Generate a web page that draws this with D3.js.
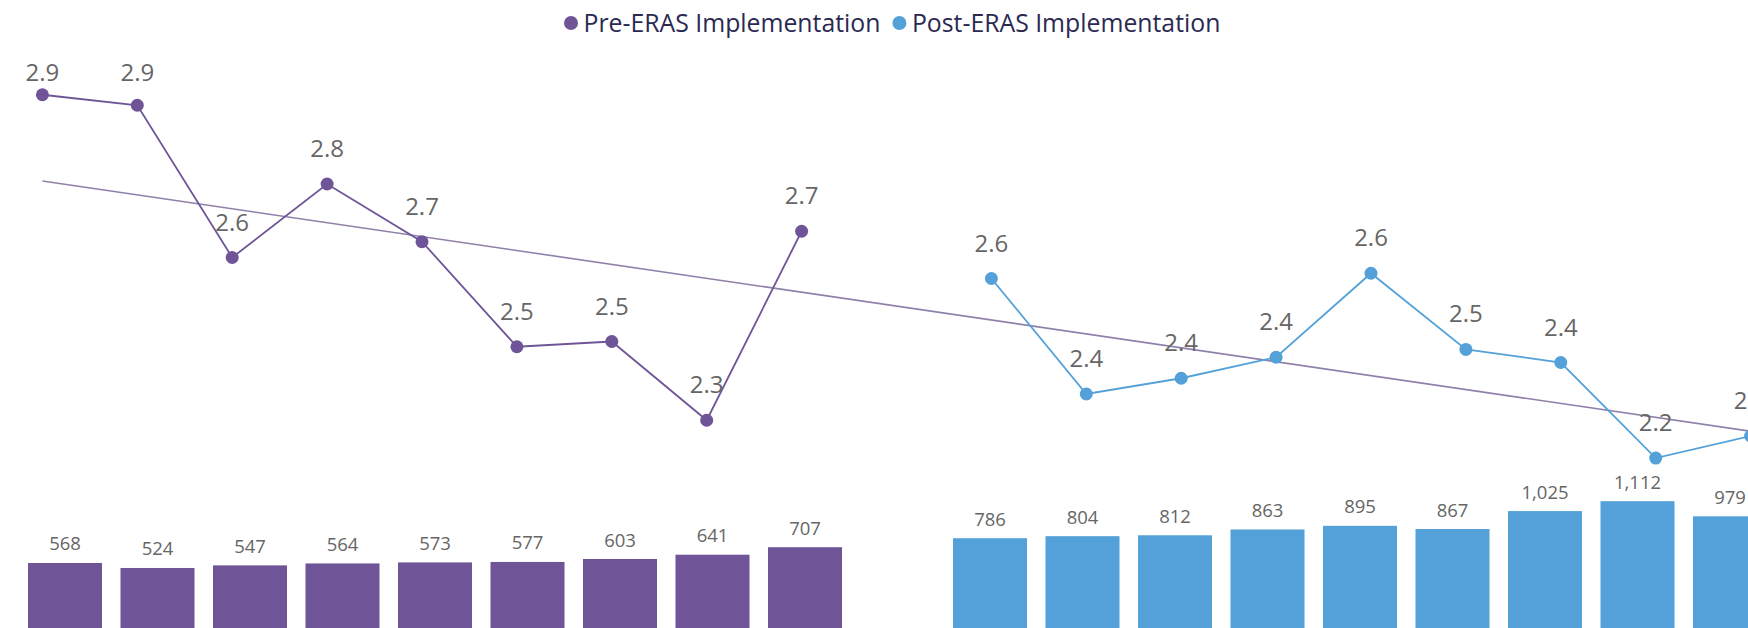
<!DOCTYPE html>
<html>
<head>
<meta charset="utf-8">
<script src="https://cdn.jsdelivr.net/npm/d3@7"></script>
<style>
  html, body { margin: 0; padding: 0; background: #fff; overflow: hidden; }
  svg { display: block; font-family: "Segoe UI", "Open Sans", sans-serif; }
</style>
</head>
<body>
<div id="chart"></div>
<script>
// periods (slot 10 is the gap between the two phases)
const categories = ["1", "2", "3", "4", "5", "6", "7", "8", "9", "gap",
  "11", "12", "13", "14", "15", "16", "17", "18", "19"];

const preCats = ["1", "2", "3", "4", "5", "6", "7", "8", "9"];
const postCats = ["11", "12", "13", "14", "15", "16", "17", "18", "19"];

// length of stay (line)
const preLos = [2.94, 2.92, 2.63, 2.77, 2.66, 2.46, 2.47, 2.32, 2.68];
const postLos = [2.59, 2.37, 2.40, 2.44, 2.60, 2.455, 2.43, 2.248, 2.29];

// case counts (bars)
const preCases = [568, 524, 547, 564, 573, 577, 603, 641, 707];
const postCases = [786, 804, 812, 863, 895, 867, 1025, 1112, 979];

const seriesNames = ["Pre-ERAS Implementation", "Post-ERAS Implementation"];
const colors = ["#6f5597", "#53a1d8"];

const width = 1748, height = 628;

const svg = d3.select("#chart").append("svg")
  .attr("width", width)
  .attr("height", height);

// ---- bars (bottom) ----
const xBar = d3.scaleBand()
  .domain(categories)
  .range([28, 1767])
  .paddingInner(0.2)
  .paddingOuter(0);

const yBar = d3.scaleLinear().domain([0, 1200]).range([627.5, 491.2]);

const barData = [
  ...preCats.map((c, i) => ({ cat: c, v: preCases[i], s: 0 })),
  ...postCats.map((c, i) => ({ cat: c, v: postCases[i], s: 1 })),
];

svg.append("g").selectAll("rect")
  .data(barData)
  .join("rect")
  .attr("x", d => xBar(d.cat))
  .attr("y", d => yBar(d.v))
  .attr("width", xBar.bandwidth())
  .attr("height", d => yBar(0) - yBar(d.v) + 2)
  .attr("fill", d => colors[d.s]);

svg.append("g").selectAll("text")
  .data(barData)
  .join("text")
  .attr("x", d => xBar(d.cat) + xBar.bandwidth() / 2)
  .attr("y", d => yBar(d.v) - 12.5)
  .attr("text-anchor", "middle")
  .attr("font-size", 18.5)
  .attr("fill", "#666")
  .text(d => d3.format(",")(d.v));

// ---- lines (top) ----
const xLine = d3.scalePoint()
  .domain(categories)
  .range([42.4, 1750.6]);

const yLine = d3.scaleLinear().domain([2.2, 3.0]).range([483.25, 63.25]);

const pre = preCats.map((c, i) => ({ cat: c, idx: categories.indexOf(c), v: preLos[i] }));
const post = postCats.map((c, i) => ({ cat: c, idx: categories.indexOf(c), v: postLos[i] }));
const all = pre.concat(post);

// linear trend over both phases
const mx = d3.mean(all, d => d.idx), my = d3.mean(all, d => d.v);
const slope = d3.sum(all, d => (d.idx - mx) * (d.v - my)) / d3.sum(all, d => (d.idx - mx) ** 2);
const trend = i => my + slope * (i - mx);
const iFirst = 0, iLast = categories.length - 1;

svg.append("line")
  .attr("x1", xLine(categories[iFirst]))
  .attr("y1", yLine(trend(iFirst)))
  .attr("x2", xLine(categories[iLast]))
  .attr("y2", yLine(trend(iLast)))
  .attr("stroke", "#8f80aa")
  .attr("stroke-width", 1.6);

const line = d3.line().x(d => xLine(d.cat)).y(d => yLine(d.v));

[pre, post].forEach((data, s) => {
  const g = svg.append("g");
  g.append("path")
    .datum(data)
    .attr("d", line)
    .attr("fill", "none")
    .attr("stroke", colors[s])
    .attr("stroke-width", 1.8);
  g.selectAll("circle")
    .data(data)
    .join("circle")
    .attr("cx", d => xLine(d.cat))
    .attr("cy", d => yLine(d.v))
    .attr("r", 6.5)
    .attr("fill", colors[s]);
  g.selectAll("text")
    .data(data)
    .join("text")
    .attr("x", d => xLine(d.cat))
    .attr("y", d => Math.max(yLine(d.v) - 27, 81))
    .attr("text-anchor", "middle")
    .attr("font-size", 24)
    .attr("fill", "#666")
    .text(d => d3.format(".1f")(d.v));
});

// ---- legend ----
const legend = svg.append("g").attr("transform", "translate(564, 23)");
let lx = 0;
seriesNames.forEach((name, s) => {
  legend.append("circle").attr("cx", lx + 7).attr("cy", 0).attr("r", 7).attr("fill", colors[s]);
  const t = legend.append("text")
    .attr("x", lx + 19.5)
    .attr("y", 0)
    .attr("dy", "0.35em")
    .attr("font-size", 24.8)
    .attr("fill", "#2b2952")
    .text(name);
  lx += 19.5 + t.node().getComputedTextLength() + 12;
});
</script>
</body>
</html>
